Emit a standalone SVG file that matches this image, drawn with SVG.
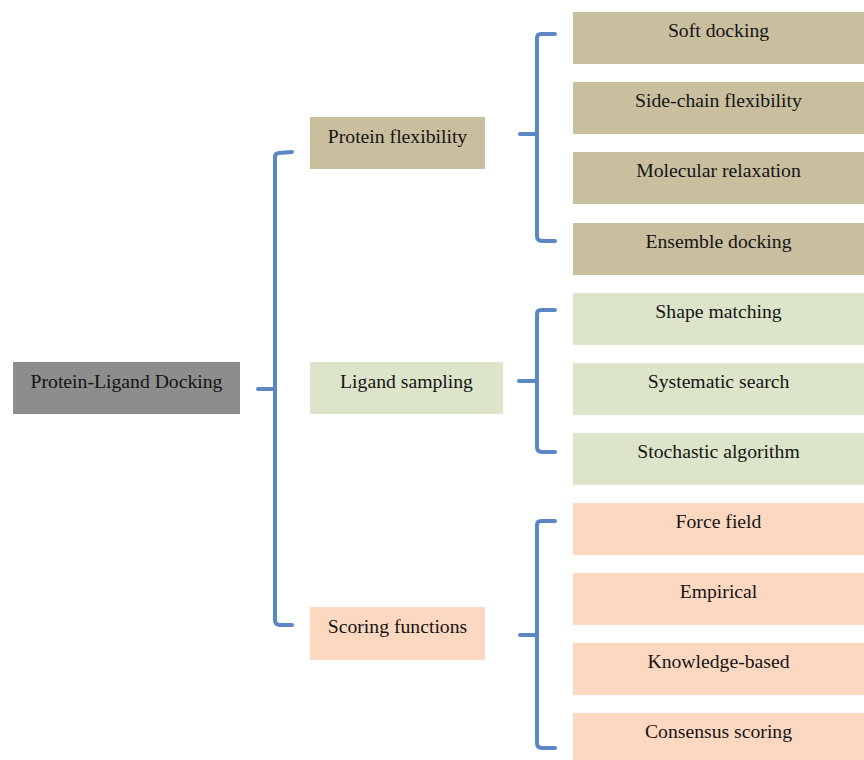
<svg xmlns="http://www.w3.org/2000/svg" width="864" height="760" viewBox="0 0 864 760">
  <style>
    .lbl { font-family: "Liberation Serif", "Times New Roman", serif; font-size: 19.7px; fill: #141414; text-anchor: middle; }
    .root { fill: #8d8d8d; }
    .tan { fill: #c9bf9f; }
    .green { fill: #dce5c9; }
    .peach { fill: #fcd8c0; }
    .brace { fill: none; stroke: #5b87c5; stroke-width: 4; stroke-linecap: round; stroke-linejoin: round; }
  </style>
  <rect width="864" height="760" fill="#ffffff"/>

  <!-- connectors: braces -->
  <g id="connectors">
    <path class="brace" d="M292,152 L279,153 Q275,153 275,157 L275,620 Q275,625 280,625 L292,625"/>
    <path class="brace" d="M258,389 L275,389"/>
    <path class="brace" d="M555,34 L541,34 Q537,34 537,38 L537,236 Q537,241 542,241 L555,241"/>
    <path class="brace" d="M520,134 L537,134"/>
    <path class="brace" d="M555,310 L541,310 Q537,310 537,314 L537,447 Q537,452 542,452 L555,452"/>
    <path class="brace" d="M519,381 L537,381"/>
    <path class="brace" d="M555,521 L541,521 Q537,521 537,525 L537,743 Q537,748 542,748 L555,748"/>
    <path class="brace" d="M520,635 L537,635"/>
  </g>

  <g id="root">
    <rect class="root" x="13" y="362" width="227" height="52"/>
    <text class="lbl" x="126.5" y="388">Protein-Ligand Docking</text>
  </g>

  <g id="protein-flexibility">
    <rect class="tan" x="310" y="117" width="175" height="52"/>
    <text class="lbl" x="397.5" y="143">Protein flexibility</text>
  </g>
  <g id="ligand-sampling">
    <rect class="green" x="310" y="362" width="193" height="52"/>
    <text class="lbl" x="406.5" y="388">Ligand sampling</text>
  </g>
  <g id="scoring-functions">
    <rect class="peach" x="310" y="607" width="175" height="53"/>
    <text class="lbl" x="397.5" y="633">Scoring functions</text>
  </g>

  <g id="soft-docking">
    <rect class="tan" x="573" y="12" width="291" height="52"/>
    <text class="lbl" x="718.5" y="37">Soft docking</text>
  </g>
  <g id="side-chain-flexibility">
    <rect class="tan" x="573" y="82" width="291" height="52"/>
    <text class="lbl" x="718.5" y="107">Side-chain flexibility</text>
  </g>
  <g id="molecular-relaxation">
    <rect class="tan" x="573" y="152" width="291" height="52"/>
    <text class="lbl" x="718.5" y="177">Molecular relaxation</text>
  </g>
  <g id="ensemble-docking">
    <rect class="tan" x="573" y="223" width="291" height="52"/>
    <text class="lbl" x="718.5" y="248">Ensemble docking</text>
  </g>

  <g id="shape-matching">
    <rect class="green" x="573" y="293" width="291" height="52"/>
    <text class="lbl" x="718.5" y="318">Shape matching</text>
  </g>
  <g id="systematic-search">
    <rect class="green" x="573" y="363" width="291" height="52"/>
    <text class="lbl" x="718.5" y="388">Systematic search</text>
  </g>
  <g id="stochastic-algorithm">
    <rect class="green" x="573" y="433" width="291" height="52"/>
    <text class="lbl" x="718.5" y="458">Stochastic algorithm</text>
  </g>

  <g id="force-field">
    <rect class="peach" x="573" y="503" width="291" height="52"/>
    <text class="lbl" x="718.5" y="528">Force field</text>
  </g>
  <g id="empirical">
    <rect class="peach" x="573" y="573" width="291" height="52"/>
    <text class="lbl" x="718.5" y="598">Empirical</text>
  </g>
  <g id="knowledge-based">
    <rect class="peach" x="573" y="643" width="291" height="52"/>
    <text class="lbl" x="718.5" y="668">Knowledge-based</text>
  </g>
  <g id="consensus-scoring">
    <rect class="peach" x="573" y="713" width="291" height="52"/>
    <text class="lbl" x="718.5" y="738">Consensus scoring</text>
  </g>
</svg>
